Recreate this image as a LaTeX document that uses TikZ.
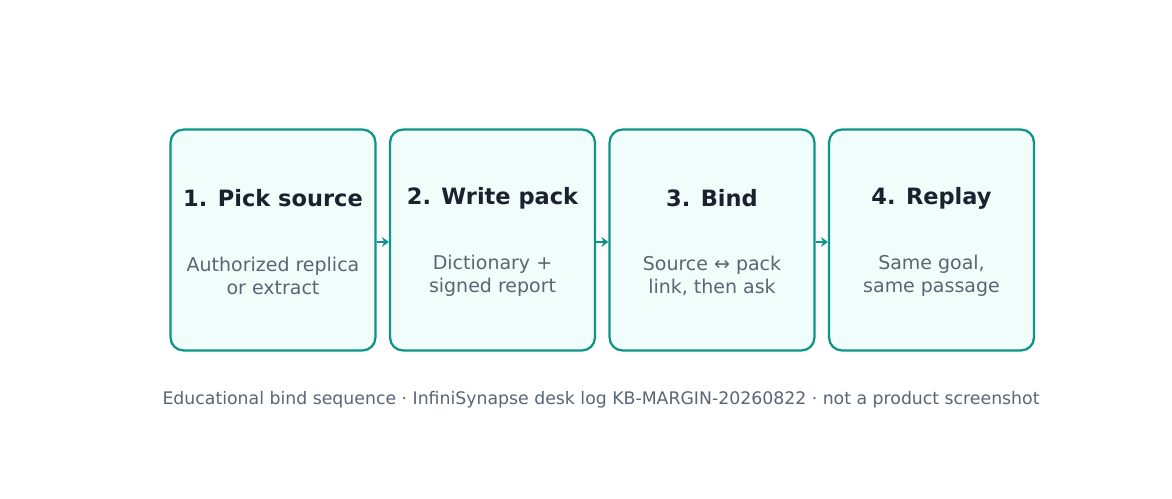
\documentclass[tikz,border=0pt]{standalone}
\usepackage{fontspec}
\setmainfont{DejaVu Sans}
\usetikzlibrary{arrows.meta,positioning}
\definecolor{stepteal}{HTML}{0D9488}
\definecolor{stepfill}{HTML}{F0FDFA}
\definecolor{steptitle}{HTML}{1A2230}
\definecolor{stepgrey}{HTML}{5B6474}

\begin{document}
\begin{tikzpicture}
    [x=0.025cm,y=-0.025cm,
     stage/.style={rectangle,rounded corners=0.32cm,draw=stepteal,line width=1.6pt,fill=stepfill,minimum width=5.12cm,minimum height=5.52cm},
     head/.style={font=\bfseries\fontsize{16}{19}\selectfont,text=steptitle},
     body/.style={font=\fontsize{13.5}{16}\selectfont,text=stepgrey,align=center},
     link/.style={draw=stepteal,line width=1.6pt,-{Stealth[length=5pt,width=7pt]}}]

    \useasboundingbox (0,0) rectangle (1172,499);

\node[stage] (s1) at (273,240) {};
\node[stage] (s2) at (492.5,240) {};
\node[stage] (s3) at (712,240) {};
\node[stage] (s4) at (931.5,240) {};

\node[head] (h1) at (273,198) {1. Pick source};
\node[head] (h2) at (492.5,198) {2. Write pack};
\node[head] (h3) at (712,198) {3. Bind};
\node[head] (h4) at (931.5,198) {4. Replay};

\node[body] (t1) at (273,276) {Authorized replica\\or extract};
\node[body] (t2) at (492.5,276) {Dictionary +\\signed report};
\node[body] (t3) at (712,276) {Source ↔ pack\\link, then ask};
\node[body] (t4) at (931.5,276) {Same goal,\\same passage};

\draw[link] ([yshift=-0.05cm]s1.east) -- ([yshift=-0.05cm]s2.west);
\draw[link] ([yshift=-0.05cm]s2.east) -- ([yshift=-0.05cm]s3.west);
\draw[link] ([yshift=-0.05cm]s3.east) -- ([yshift=-0.05cm]s4.west);

\node[font=\fontsize{12.3}{15}\selectfont,text=stepgrey] (note) at (601,400) {Educational bind sequence · InfiniSynapse desk log KB-MARGIN-20260822 · not a product screenshot};

  \end{tikzpicture}
\end{document}
